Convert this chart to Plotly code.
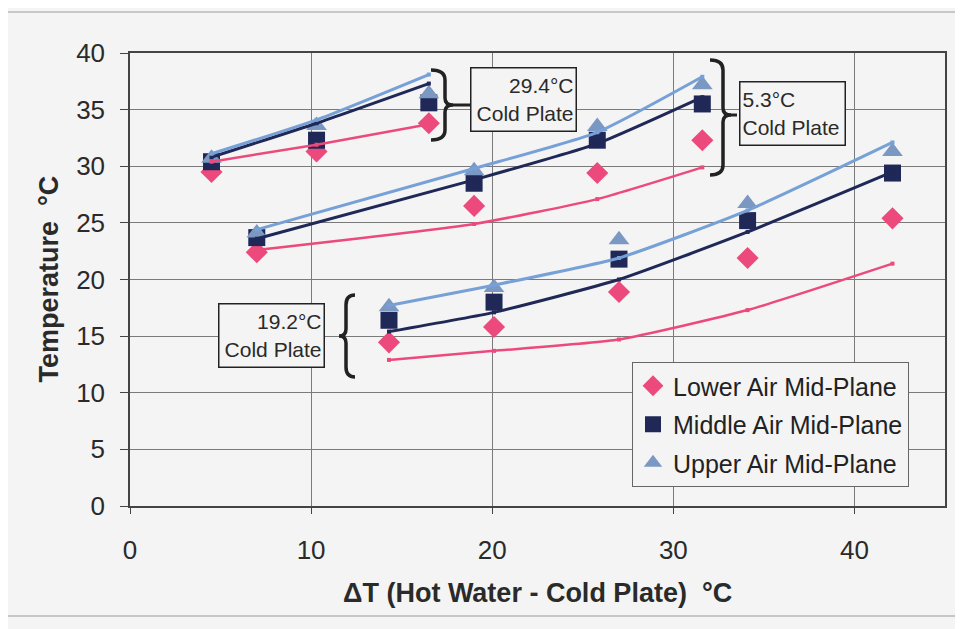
import plotly.graph_objects as go

# ---------------- data ----------------
xA = [4.5, 10.3, 16.5]
lowA = [29.5, 31.3, 33.8]
midA = [30.4, 32.3, 35.6]
upA = [30.7, 33.6, 36.4]
fitLowA = [30.4, 31.9, 33.7]
fitMidA = [30.8, 33.8, 37.3]
fitUpA = [31.1, 34.1, 38.1]

xB = [7.0, 19.0, 25.8, 31.6]
lowB = [22.4, 26.5, 29.4, 32.3]
midB = [23.7, 28.5, 32.3, 35.5]
upB = [24.1, 29.6, 33.5, 37.2]
fitLowB = [22.6, 24.9, 27.1, 29.9]
fitMidB = [23.6, 28.8, 32.0, 36.1]
fitUpB = [24.4, 29.8, 33.0, 37.9]

xC = [14.3, 20.1, 27.0, 34.1, 42.1]
lowC = [14.45, 15.8, 18.9, 21.9, 25.4]
midC = [16.4, 18.0, 21.8, 25.2, 29.4]
upC = [17.6, 19.3, 23.5, 26.7, 31.3]
fitLowC = [12.9, 13.7, 14.7, 17.3, 21.4]
fitMidC = [15.4, 17.1, 20.0, 24.2, 29.5]
fitUpC = [17.7, 19.5, 21.9, 26.1, 32.1]

series_names = ["Lower Air Mid-Plane", "Middle Air Mid-Plane", "Upper Air Mid-Plane"]
group_labels = ["29.4°C<br>Cold Plate", "5.3°C<br>Cold Plate", "19.2°C<br>Cold Plate"]

# ---------------- layout helpers ----------------
W, H = 963, 629
OFF = 8  # page body margin
L, R, T, B = 130, 945, 53, 506   # plot area in window pixels
BG = "#f4f4f4"
PINK = "#ec4a7c"
NAVY = "#1f2856"
STEEL = "#7b98c2"
LIGHT = "#76a0d6"


def pxp(x):
    return (x - L) / (R - L)


def pyp(y):
    return (B - y) / (B - T)


def join(*lists):
    out = []
    for l in lists:
        out += list(l) + [None]
    return out[:-1]


fig = go.Figure()

marker_specs = [
    (series_names[0], join(lowA, lowB, lowC), "diamond", 17, PINK),
    (series_names[1], join(midA, midB, midC), "square", 17, NAVY),
    (series_names[2], join(upA, upB, upC), "triangle-up", 18, STEEL),
]
xall = join(xA, xB, xC)
for i, (name, ys, sym, size, col) in enumerate(marker_specs):
    fig.add_trace(go.Scatter(
        x=xall, y=ys, mode="markers", name=name, legendgroup=f"g{i}",
        marker=dict(symbol=sym, size=size, color=col, line=dict(width=0)),
    ))

line_specs = [
    (join(fitLowA, fitLowB, fitLowC), PINK, 2.5),
    (join(fitMidA, fitMidB, fitMidC), NAVY, 3),
    (join(fitUpA, fitUpB, fitUpC), LIGHT, 3),
]
for ys, col, w in line_specs:
    fig.add_trace(go.Scatter(
        x=xall, y=ys, mode="lines+markers", showlegend=False,
        line=dict(color=col, width=w, shape="spline", smoothing=0.5),
        marker=dict(symbol="square", size=4, color=col),
    ))


def brace(x0, y0, y1, xs, xt, ym, r=10, r2=7):
    pts = [
        ("M", [(x0, y0)]),
        ("Q", [(xs, y0), (xs, y0 + r)]),
        ("L", [(xs, ym - r2)]),
        ("Q", [(xs, ym), (xt, ym)]),
        ("Q", [(xs, ym), (xs, ym + r2)]),
        ("L", [(xs, y1 - r)]),
        ("Q", [(xs, y1), (x0, y1)]),
    ]
    path = ""
    for cmd, ps in pts:
        path += cmd + " " + " ".join(f"{pxp(a):.5f},{pyp(b):.5f}" for a, b in ps) + " "
    return path.strip()


shapes = []
for pth in [
    brace(431, 70, 140, 445, 453, 105),
    brace(710, 60, 175, 723, 731, 115),
    brace(355, 295, 377, 346, 339, 336),
]:
    shapes.append(dict(type="path", path=pth, xref="paper", yref="paper",
                       line=dict(color="#222222", width=3.5)))
for x0, x1, y in [(452, 470, 105), (730, 737, 115)]:
    shapes.append(dict(type="line", xref="paper", yref="paper",
                       x0=pxp(x0), x1=pxp(x1), y0=pyp(y), y1=pyp(y),
                       line=dict(color="#222222", width=3)))
# outer frame
shapes.append(dict(type="rect", xref="paper", yref="paper",
                   x0=pxp(7), x1=pxp(958), y0=pyp(12), y1=pyp(616),
                   line=dict(color="#9a9a9a", width=1), layer="below"))

FONT = "Liberation Sans, Arial, sans-serif"
annotations = []
for txt, cx, cy, al in [
    (group_labels[0], 523, 100, "right"),
    (group_labels[1], 792, 113, "left"),
    (group_labels[2], 271.5, 335.5, "right"),
]:
    annotations.append(dict(
        text=txt, x=pxp(cx), y=pyp(cy), xref="paper", yref="paper",
        xanchor="center", yanchor="middle", showarrow=False, align=al,
        width=100, height=58, borderpad=2, bordercolor="#222222", borderwidth=1.5,
        bgcolor=BG, font=dict(family=FONT, size=21, color="#2a2a2a"),
    ))
annotations.append(dict(
    text="<b>ΔT (Hot Water - Cold Plate)\u00a0\u00a0°C</b>", x=0.5, y=pyp(593),
    xref="paper", yref="paper", xanchor="center", yanchor="middle", showarrow=False,
    font=dict(family=FONT, size=27, color="#2a2a2a"),
))
annotations.append(dict(
    text="<b>Temperature\u00a0\u00a0°C</b>", x=pxp(48), y=0.5, textangle=-90,
    xref="paper", yref="paper", xanchor="center", yanchor="middle", showarrow=False,
    font=dict(family=FONT, size=27, color="#2a2a2a"),
))

fig.update_layout(
    width=W, height=H,
    margin=dict(l=L - OFF, r=W - R + OFF, t=T - OFF, b=H - B + OFF, autoexpand=False),
    paper_bgcolor=BG, plot_bgcolor=BG,
    font=dict(family=FONT, color="#2a2a2a"),
    shapes=shapes, annotations=annotations,
    legend=dict(
        x=pxp(632), y=pyp(362), xanchor="left", yanchor="top",
        bgcolor=BG, bordercolor="#666666", borderwidth=1,
        font=dict(family=FONT, size=25, color="#222222"),
        tracegroupgap=3, itemwidth=30,
    ),
    xaxis=dict(
        range=[0, 45], tick0=0, dtick=10, showgrid=True, gridcolor="#7a7a7a", gridwidth=1,
        zeroline=False, showline=True, linecolor="#444444", linewidth=1.5, mirror=True,
        ticks="outside", ticklen=6, tickcolor="#444444", automargin=False,
        tickfont=dict(family=FONT, size=26, color="#2a2a2a"), ticklabelstandoff=14,
    ),
    yaxis=dict(
        range=[0, 40], tick0=0, dtick=5, showgrid=True, gridcolor="#7a7a7a", gridwidth=1,
        zeroline=False, showline=True, linecolor="#444444", linewidth=1.5, mirror=True,
        ticks="outside", ticklen=8, tickcolor="#444444", automargin=False,
        tickfont=dict(family=FONT, size=26, color="#2a2a2a"), ticklabelstandoff=10,
    ),
)

fig.write_html("out.html")
